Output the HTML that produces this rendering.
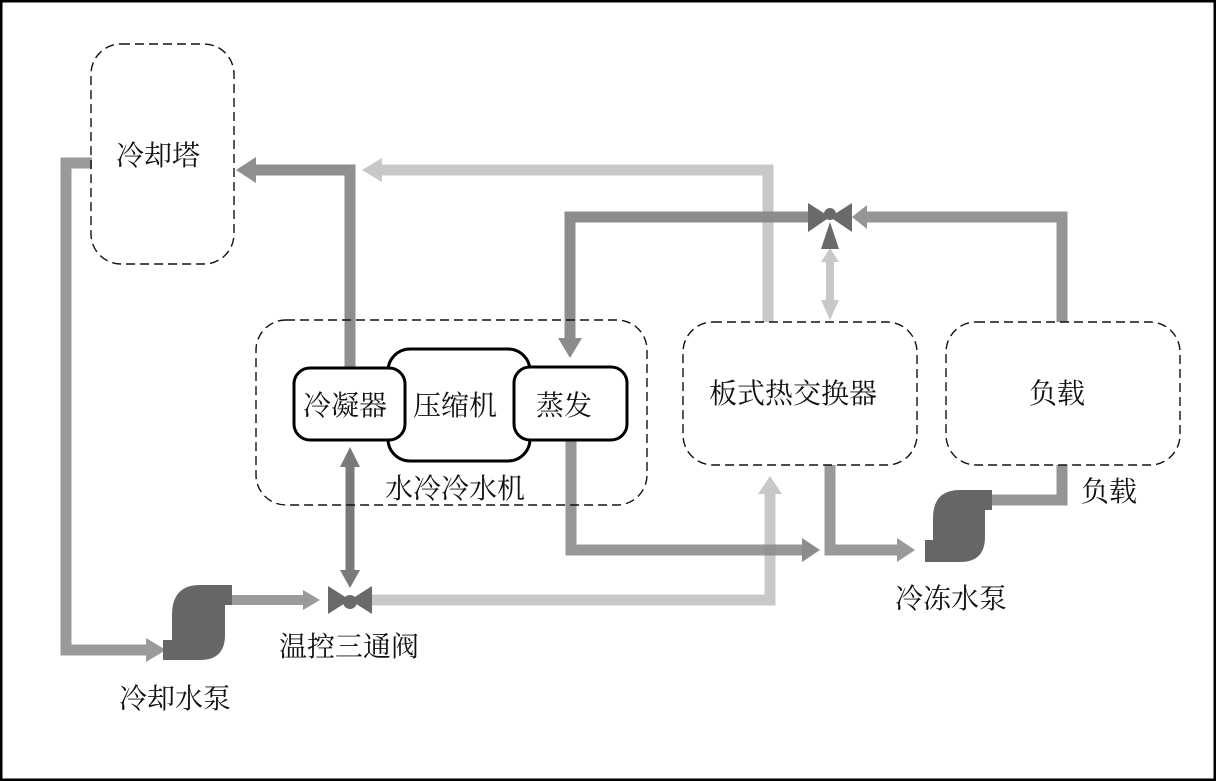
<!DOCTYPE html>
<html><head><meta charset="utf-8"><style>
html,body{margin:0;padding:0;background:#fff}
svg{display:block}
text{font-family:"Noto Serif CJK SC","Liberation Serif","Noto Sans CJK SC",serif;fill:#111}
</style></head><body>
<svg width="1216" height="781" viewBox="0 0 1216 781" xmlns="http://www.w3.org/2000/svg">
<rect x="1" y="1" width="1214" height="779" fill="#fff" stroke="#000" stroke-width="3"/>
<g fill="none" stroke-linejoin="miter">
<polyline points="92,163 66,163 66,650 148,650" stroke="#9a9a9a" stroke-width="11"/>
<polygon points="146,638 166,650 146,662" fill="#9a9a9a"/>
<polyline points="350,368 350,170 255,170" stroke="#8f8f8f" stroke-width="11"/>
<polygon points="256,157 236,170 256,183" fill="#8f8f8f"/>
<polyline points="768,322 768,170 382,170" stroke="#c8c8c8" stroke-width="11"/>
<polygon points="382,158 362,170 382,182" fill="#c8c8c8"/>
<polyline points="808,217 570,217 570,340" stroke="#8c8c8c" stroke-width="11"/>
<polygon points="558,338 570,358 582,338" fill="#8c8c8c"/>
<polyline points="1062,322 1062,217 866,217" stroke="#959595" stroke-width="11"/>
<polygon points="867,205 852,217 867,229" fill="#959595"/>
<line x1="830" y1="262" x2="830" y2="305" stroke="#c8c8c8" stroke-width="8"/>
<polygon points="821,262 830,248 839,262" fill="#c8c8c8"/>
<polygon points="821,300 830,320 839,300" fill="#c8c8c8"/>
<line x1="350" y1="465" x2="350" y2="570" stroke="#7a7a7a" stroke-width="9"/>
<polygon points="340,467 350,447 360,467" fill="#7a7a7a"/>
<polygon points="340,570 350,588 360,570" fill="#7a7a7a"/>
<line x1="232" y1="600" x2="305" y2="600" stroke="#9a9a9a" stroke-width="10"/>
<polygon points="303,590 320,600 303,610" fill="#9a9a9a"/>
<polyline points="372,600 770,600 770,492" stroke="#c8c8c8" stroke-width="11"/>
<polygon points="758,494 770,476 782,494" fill="#c8c8c8"/>
<polyline points="571,440 571,550 805,550" stroke="#8c8c8c" stroke-width="11" opacity="0.9"/>
<polygon points="802,538 820,550 802,562" fill="#8c8c8c"/>
<polyline points="830,465 830,550 900,550" stroke="#999" stroke-width="11"/>
<polygon points="897,538 915,550 897,562" fill="#999"/>
<polyline points="1062,465 1062,500 990,500" stroke="#959595" stroke-width="11"/>
</g>
<path d="M163,660 L163,640 L172,640 L172,615 Q172,585 200,585 L232,585 L232,605 L225,605 L225,635 Q225,660 200,660 Z" fill="#666"/>
<path d="M925,562 L925,540 L933,540 L933,518 Q933,490 960,490 L992,490 L992,510 L985,510 L985,537 Q985,562 960,562 Z" fill="#666"/>
<polygon points="328,586 350,600 328,614" fill="#6a6a6a"/>
<polygon points="372,586 350,600 372,614" fill="#6a6a6a"/>
<circle cx="350" cy="602" r="7" fill="#6a6a6a"/>
<polygon points="808,203 830,217 808,232" fill="#6a6a6a"/>
<polygon points="852,203 830,217 852,232" fill="#6a6a6a"/>
<circle cx="830" cy="214" r="6" fill="#6a6a6a"/>
<polygon points="821,249 830,222 839,249" fill="#6a6a6a"/>
<g fill="none" stroke="#111" stroke-width="1.4" stroke-dasharray="9,5">
<rect x="91" y="44" width="143" height="220" rx="30"/>
<rect x="256" y="320" width="391" height="185" rx="30"/>
<rect x="683" y="322" width="234" height="143" rx="30"/>
<rect x="946" y="322" width="234" height="143" rx="30"/>
</g>
<g fill="#fff" stroke="#000" stroke-width="3">
<rect x="388" y="349" width="142" height="112" rx="22"/>
<rect x="294" y="368" width="111" height="72" rx="16"/>
<rect x="514" y="367" width="113" height="73" rx="16"/>
</g>
<g font-size="28">
<text x="116" y="165">冷却塔</text>
<text x="303" y="415">冷凝器</text>
<text x="413" y="415">压缩机</text>
<text x="536" y="415">蒸发</text>
<text x="385" y="498">水冷冷水机</text>
<text x="709" y="403">板式热交换器</text>
<text x="1029" y="403">负载</text>
<text x="1081" y="501">负载</text>
<text x="895" y="608">冷冻水泵</text>
<text x="279" y="656">温控三通阀</text>
<text x="119" y="708">冷却水泵</text>
</g>
</svg>
</body></html>
